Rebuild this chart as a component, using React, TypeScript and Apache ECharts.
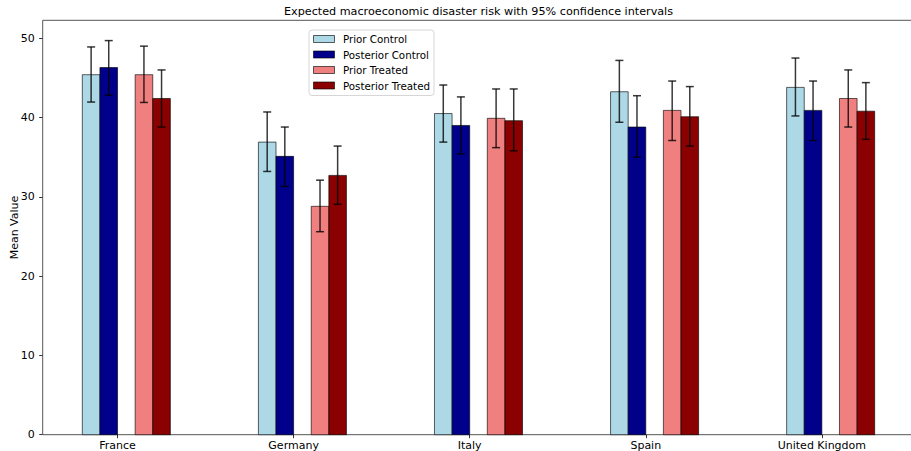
import React, { useEffect, useRef } from "react";
import * as echarts from "echarts";

const COUNTRIES = ["France", "Germany", "Italy", "Spain", "United Kingdom"];
const SERIES_NAMES = ["Prior Control", "Posterior Control", "Prior Treated", "Posterior Treated"];
const TITLE = "Expected macroeconomic disaster risk with 95% confidence intervals";

const PRIOR_CONTROL = [45.4, 36.9, 40.5, 43.25, 43.8];
const PRIOR_CONTROL_LO = [41.95, 33.2, 36.9, 39.4, 40.2];
const PRIOR_CONTROL_HI = [48.9, 40.7, 44.1, 47.2, 47.5];

const POSTERIOR_CONTROL = [46.3, 35.1, 39.0, 38.8, 40.9];
const POSTERIOR_CONTROL_LO = [42.8, 31.3, 35.4, 35.0, 37.1];
const POSTERIOR_CONTROL_HI = [49.7, 38.8, 42.6, 42.75, 44.6];

const PRIOR_TREATED = [45.4, 28.8, 39.9, 40.9, 42.4];
const PRIOR_TREATED_LO = [41.9, 25.6, 36.2, 37.1, 38.8];
const PRIOR_TREATED_HI = [49.0, 32.1, 43.6, 44.6, 46.0];

const POSTERIOR_TREATED = [42.4, 32.7, 39.6, 40.1, 40.8];
const POSTERIOR_TREATED_LO = [38.8, 29.05, 35.8, 36.4, 37.25];
const POSTERIOR_TREATED_HI = [46.0, 36.4, 43.6, 43.9, 44.4];

const Y_TICKS = [0, 10, 20, 30, 40, 50];

// style / layout constants
const COLORS = ["#ADD8E6", "#00008B", "#F08080", "#8B0000"];
const OFFSETS = [-0.15, -0.05, 0.15, 0.25];
const BAR_W = 0.1;
const FONT = "DejaVu Sans";

export default function App() {
  const ref = useRef<HTMLDivElement>(null);

  useEffect(() => {
    if (!ref.current) return;
    const chart = echarts.init(ref.current, undefined, { renderer: "svg" });

    const groups = [
      [PRIOR_CONTROL, PRIOR_CONTROL_LO, PRIOR_CONTROL_HI],
      [POSTERIOR_CONTROL, POSTERIOR_CONTROL_LO, POSTERIOR_CONTROL_HI],
      [PRIOR_TREATED, PRIOR_TREATED_LO, PRIOR_TREATED_HI],
      [POSTERIOR_TREATED, POSTERIOR_TREATED_LO, POSTERIOR_TREATED_HI],
    ];

    const series = groups.map((g, si) => ({
      type: "custom",
      name: SERIES_NAMES[si],
      itemStyle: { color: COLORS[si] },
      encode: { x: 0, y: 1 },
      clip: false,
      data: COUNTRIES.map((_, i) => [i + OFFSETS[si], g[0][i], g[1][i], g[2][i]]),
      renderItem: (params: any, api: any) => {
        const x = api.value(0);
        const v = api.value(1);
        const lo = api.value(2);
        const hi = api.value(3);
        const w = api.size([BAR_W, 0])[0];
        const top = api.coord([x, v]);
        const base = api.coord([x, 0]);
        const pLo = api.coord([x, lo]);
        const pHi = api.coord([x, hi]);
        const cap = 4;
        const ec = "rgba(0,0,0,0.78)";
        return {
          type: "group",
          children: [
            {
              type: "rect",
              shape: { x: top[0] - w / 2, y: top[1], width: w, height: base[1] - top[1] },
              style: { fill: COLORS[si], stroke: "rgba(0,0,0,0.62)", lineWidth: 1 },
            },
            {
              type: "line",
              shape: { x1: pLo[0], y1: pLo[1], x2: pHi[0], y2: pHi[1] },
              style: { stroke: ec, lineWidth: 1.5 },
            },
            {
              type: "line",
              shape: { x1: pLo[0] - cap, y1: pLo[1], x2: pLo[0] + cap, y2: pLo[1] },
              style: { stroke: ec, lineWidth: 1.5 },
            },
            {
              type: "line",
              shape: { x1: pHi[0] - cap, y1: pHi[1], x2: pHi[0] + cap, y2: pHi[1] },
              style: { stroke: ec, lineWidth: 1.5 },
            },
          ],
        };
      },
    }));

    chart.setOption({
      animation: false,
      backgroundColor: "#ffffff",
      textStyle: { fontFamily: FONT },
      graphic: [
        {
          type: "text",
          x: 478.5,
          y: 5.5,
          style: {
            text: TITLE,
            fontFamily: FONT,
            fontSize: 11.2,
            fill: "#000",
            textAlign: "center",
            textVerticalAlign: "top",
          },
        },
      ],
      legend: {
        show: true,
        orient: "vertical",
        left: 309,
        top: 30,
        padding: [3, 4, 4, 4],
        itemWidth: 21,
        itemHeight: 7,
        itemGap: 3.5,
        icon: "rect",
        backgroundColor: "#ffffff",
        borderColor: "#d6d6d6",
        borderWidth: 1,
        borderRadius: 3,
        itemStyle: { borderColor: "rgba(0,0,0,0.62)", borderWidth: 1 },
        textStyle: { fontFamily: FONT, fontSize: 10.3, lineHeight: 12, color: "#000", padding: [0, 0, 0, 3.4] },
        data: SERIES_NAMES,
      },
      grid: {
        left: 42.7,
        top: 20.3,
        width: 871.6,
        height: 414.4,
        outerBoundsMode: "none",
        containLabel: false,
        show: true,
        borderColor: "#555",
        borderWidth: 1,
        backgroundColor: "transparent",
      },
      xAxis: {
        type: "value",
        min: -0.425,
        max: 4.525,
        axisLine: { show: false, onZero: false },
        splitLine: { show: false },
        axisTick: {
          show: true,
          customValues: COUNTRIES.map((_, i) => i),
          length: 3.5,
          lineStyle: { color: "#333", width: 1 },
        },
        axisLabel: {
          customValues: COUNTRIES.map((_, i) => i),
          formatter: (v: number) => COUNTRIES[Math.round(v)] ?? "",
          fontFamily: FONT,
          fontSize: 11,
          lineHeight: 11,
          color: "#000",
          margin: 5,
        },
      },
      yAxis: {
        type: "value",
        min: 0,
        max: 52.26,
        interval: 10,
        name: "Mean Value",
        nameLocation: "middle",
        nameGap: 23,
        nameMoveOverlap: false,
        nameTextStyle: { fontFamily: FONT, fontSize: 11, color: "#000" },
        axisLine: { show: false, onZero: false },
        splitLine: { show: false },
        axisTick: {
          show: true,
          customValues: Y_TICKS,
          length: 3.5,
          lineStyle: { color: "#333", width: 1 },
        },
        axisLabel: {
          customValues: Y_TICKS,
          fontFamily: FONT,
          fontSize: 11,
          color: "#000",
          margin: 8,
        },
      },
      series,
    });

    return () => {
      chart.dispose();
    };
  }, []);

  return (
    <div
      ref={ref}
      style={{ position: "absolute", left: 0, top: 0, width: 911, height: 451 }}
    />
  );
}
